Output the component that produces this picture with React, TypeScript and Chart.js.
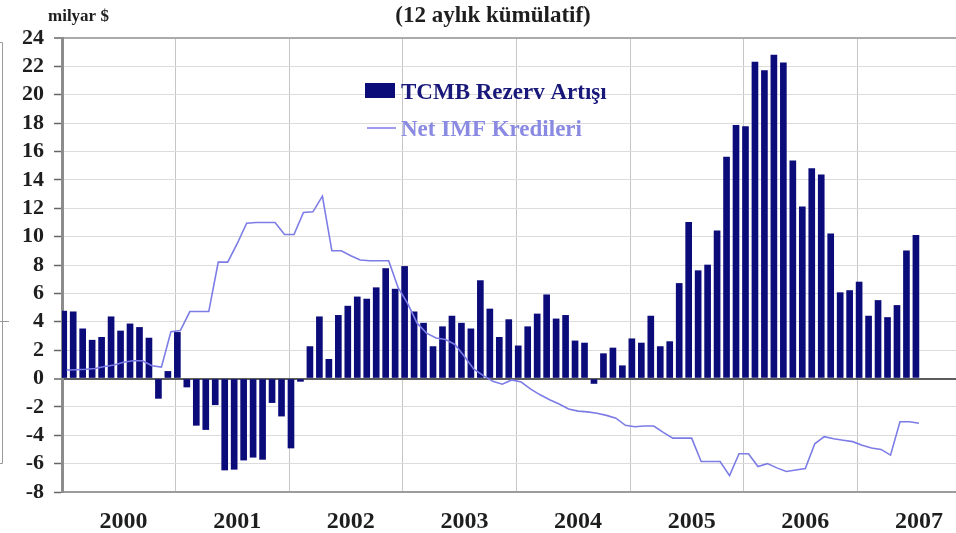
import React, { useEffect, useRef } from "react";
import { Chart, registerables } from "chart.js";

Chart.register(...registerables);

const years = ["2000", "2001", "2002", "2003", "2004", "2005", "2006", "2007"];
const monthLabels = years.flatMap((y) =>
  ["01", "02", "03", "04", "05", "06", "07", "08", "09", "10", "11", "12"].map((m) => `${y}-${m}`)
);

const titleText = "(12 aylık kümülatif)";
const unitText = "milyar $";
const reserveLabel = "TCMB Rezerv Artışı";
const imfLabel = "Net IMF Kredileri";

// TCMB reserve increase, monthly Jan 2000 - Jul 2007 (billion $)
const reserveIncrease = [
  4.75, 4.7, 3.5, 2.7, 2.9, 4.35, 3.35, 3.85, 3.6, 2.85, -1.4, 0.5,
  3.25, -0.6, -3.3, -3.6, -1.85, -6.45, -6.4, -5.75, -5.55, -5.7, -1.7, -2.65,
  -4.9, -0.2, 2.25, 4.35, 1.35, 4.45, 5.1, 5.75, 5.6, 6.4, 7.75, 6.3,
  7.9, 4.7, 3.9, 2.25, 3.65, 4.4, 3.9, 3.5, 6.9, 4.9, 2.9, 4.15,
  2.3, 3.65, 4.55, 5.9, 4.2, 4.45, 2.65, 2.5, -0.35, 1.75, 2.15, 0.9,
  2.8, 2.5, 4.4, 2.25, 2.6, 6.7, 11.0, 7.6, 8.0, 10.4, 15.6, 17.85,
  17.75, 22.3, 21.7, 22.8, 22.25, 15.35, 12.1, 14.8, 14.35, 10.2, 6.05, 6.2,
  6.8, 4.4, 5.5, 4.3, 5.15, 9.0, 10.1,
];

// Net IMF credits, monthly Jan 2000 - Jul 2007 (billion $)
const netImfCredits = [
  0.6, 0.62, 0.65, 0.7, 0.85, 0.95, 1.15, 1.25, 1.25, 0.9, 0.8, 3.3,
  3.38, 4.72, 4.72, 4.72, 8.2, 8.2, 9.5, 10.95, 11.0, 11.0, 11.0, 10.15,
  10.15, 11.7, 11.75, 12.85, 9.0, 9.0, 8.65, 8.35, 8.3, 8.3, 8.3, 6.4,
  5.3, 3.9, 3.2, 2.85, 2.75, 2.4, 1.55, 0.65, 0.2, -0.2, -0.4, -0.1,
  -0.25, -0.75, -1.15, -1.5, -1.8, -2.15, -2.3, -2.35, -2.45, -2.6, -2.8, -3.3,
  -3.4, -3.35, -3.35, -3.8, -4.2, -4.2, -4.2, -5.85, -5.85, -5.85, -6.85, -5.3,
  -5.3, -6.2, -6.0, -6.3, -6.55, -6.45, -6.35, -4.6, -4.1, -4.25, -4.35, -4.45,
  -4.7, -4.9, -5.0, -5.4, -3.05, -3.05, -3.15,
];

const barColor = "#0b0b7a";
const lineColor = "#7c7ce6";
const serif = '"Liberation Serif", "Times New Roman", serif';

const decorPlugin = {
  id: "decor",
  afterDraw(chart: any) {
    const { ctx } = chart;
    ctx.save();
    // title + unit
    ctx.fillStyle = "#1e1e1e";
    ctx.textBaseline = "middle";
    ctx.textAlign = "center";
    ctx.font = `bold 23px ${serif}`;
    ctx.fillText(titleText, 493, 16);
    ctx.textAlign = "left";
    ctx.font = `bold 17px ${serif}`;
    ctx.fillText(unitText, 48, 17);

    // legend
    const ds = chart.data.datasets;
    ctx.fillStyle = ds[0].backgroundColor;
    ctx.fillRect(365, 83, 30, 15);
    ctx.font = `bold 23px ${serif}`;
    ctx.textBaseline = "alphabetic";
    ctx.fillStyle = "#18187a";
    ctx.fillText(ds[0].label, 401, 99);
    ctx.strokeStyle = ds[2].borderColor;
    ctx.lineWidth = 1.5;
    ctx.beginPath();
    ctx.moveTo(367, 128);
    ctx.lineTo(396, 128);
    ctx.stroke();
    ctx.fillStyle = "#8a8ae2";
    ctx.fillText(ds[2].label, 401, 136);

    // neighbouring frame edge at far left
    ctx.strokeStyle = "#9a9a9a";
    ctx.lineWidth = 1;
    ctx.beginPath();
    ctx.moveTo(0, 42.5);
    ctx.lineTo(2.5, 42.5);
    ctx.lineTo(2.5, 463.5);
    ctx.lineTo(0, 463.5);
    ctx.moveTo(0, 321.5);
    ctx.lineTo(9, 321.5);
    ctx.stroke();
    ctx.restore();
  },
};

export default function App() {
  const ref = useRef<HTMLCanvasElement | null>(null);

  useEffect(() => {
    document.body.style.margin = "0";
    const canvas = ref.current;
    if (!canvas) return;
    const chart = new Chart(canvas, {
      type: "bar",
      data: {
        labels: monthLabels,
        datasets: [
          {
            type: "bar",
            label: reserveLabel,
            data: reserveIncrease,
            backgroundColor: barColor,
            borderWidth: 0,
            barThickness: 6,
            order: 2,
          },
          {
            type: "bar",
            label: "",
            data: reserveIncrease.map(() => null),
            backgroundColor: "transparent",
            borderWidth: 0,
            barThickness: 6,
            order: 3,
          },
          {
            type: "line",
            label: imfLabel,
            data: netImfCredits,
            borderColor: lineColor,
            backgroundColor: lineColor,
            borderWidth: 1.6,
            pointRadius: 0,
            tension: 0,
            fill: false,
            order: 0,
          },
        ] as any,
      },
      options: {
        responsive: false,
        maintainAspectRatio: false,
        animation: false,
        devicePixelRatio: 1,
        layout: { padding: { top: 38, right: 0, bottom: 0, left: 0 } },
        plugins: {
          legend: { display: false },
          title: { display: false },
          tooltip: { enabled: false },
        },
        scales: {
          x: {
            type: "category",
            offset: true,
            grid: {
              offset: true,
              drawTicks: true,
              tickLength: 15,
              tickColor: "transparent",
              color: (c: any) => (c.index > 0 && c.index % 12 === 0 ? "#c6c6c6" : "transparent"),
              lineWidth: 1,
            },
            border: { display: true, color: "#9c9c9c", width: 2 },
            ticks: {
              autoSkip: false,
              maxRotation: 0,
              minRotation: 0,
              padding: 0,
              color: "#1e1e1e",
              font: { family: serif, size: 24, weight: "bold" },
              callback: (_v: any, i: number) => (i % 12 === 6 ? years[Math.floor(i / 12)] : ""),
            },
            afterFit: (s: any) => {
              s.height = 41;
              s.paddingLeft = 0;
              s.paddingRight = 0;
            },
          },
          y: {
            min: -8,
            max: 24,
            ticks: {
              stepSize: 2,
              autoSkip: false,
              padding: 10,
              color: "#1e1e1e",
              font: { family: serif, size: 22, weight: "bold", lineHeight: 1 },
            },
            grid: {
              color: (c: any) =>
                c.tick && c.tick.value === 0
                  ? "#5c5c5c"
                  : c.tick && c.tick.value === 24
                  ? "#ababab"
                  : c.tick && c.tick.value === -8
                  ? "#9c9c9c"
                  : "#dcdcdc",
              lineWidth: (c: any) => (c.tick && (c.tick.value === 0 || c.tick.value === 24) ? 2 : 1),
              tickColor: "#666666",
              tickLength: 8,
              tickWidth: 1.5,
            },
            border: { display: true, color: "#8c8c8c", width: 3 },
            afterFit: (s: any) => {
              s.width = 62;
            },
          },
        },
      } as any,
      plugins: [decorPlugin],
    });
    return () => chart.destroy();
  }, []);

  return (
    <div style={{ width: 956, height: 533, overflow: "hidden", position: "relative", background: "#fff" }}>
      <div style={{ width: 971, height: 533, position: "relative" }}>
        <canvas ref={ref} width={971} height={533} style={{ display: "block", width: 971, height: 533 }} />
      </div>
    </div>
  );
}
